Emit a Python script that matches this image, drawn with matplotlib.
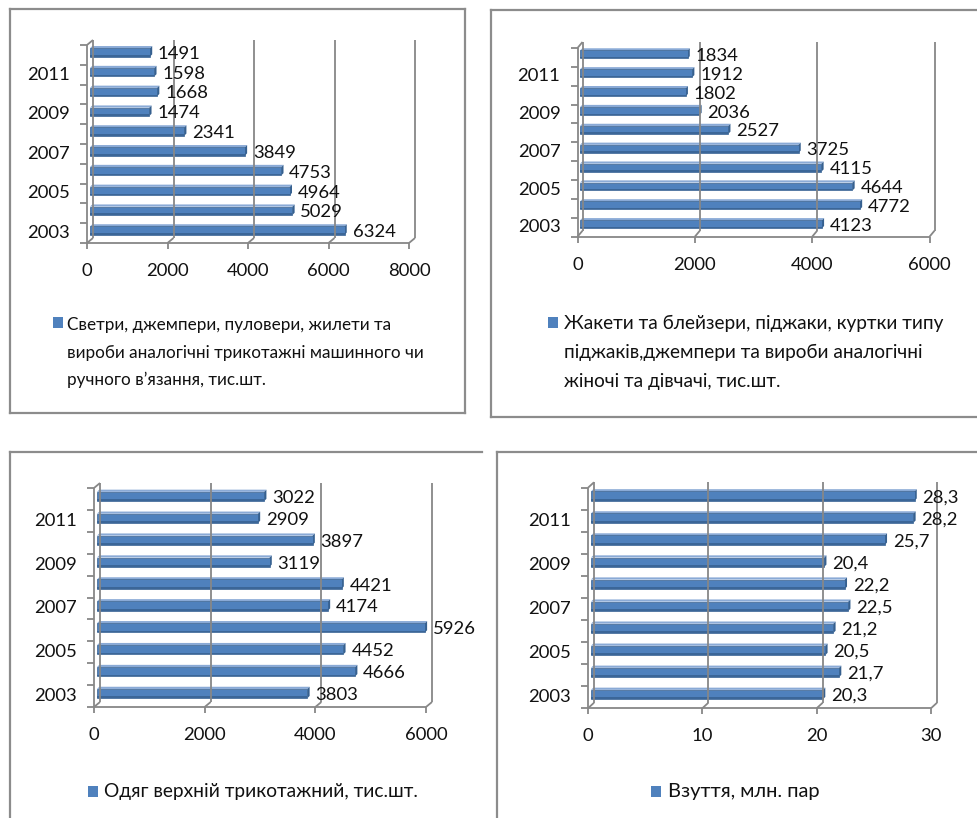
import matplotlib
matplotlib.use("Agg")
import matplotlib.pyplot as plt
from matplotlib.patches import Rectangle, Polygon
from matplotlib.lines import Line2D

# ---------------- data ----------------
years = [2003, 2004, 2005, 2006, 2007, 2008, 2009, 2010, 2011, 2012]
year_labels = ["2003", "", "2005", "", "2007", "", "2009", "", "2011", ""]

sweaters = [6324, 5029, 4964, 4753, 3849, 2341, 1474, 1668, 1598, 1491]
jackets = [4123, 4772, 4644, 4115, 3725, 2527, 2036, 1802, 1912, 1834]
outerwear = [3803, 4666, 4452, 5926, 4174, 4421, 3119, 3897, 2909, 3022]
footwear = [20.3, 21.7, 20.5, 21.2, 22.5, 22.2, 20.4, 25.7, 28.2, 28.3]

ticks_1 = [0, 2000, 4000, 6000, 8000]
ticks_2 = [0, 2000, 4000, 6000]
ticks_3 = [0, 2000, 4000, 6000]
ticks_4 = [0, 10, 20, 30]

legend_1 = ["Светри, джемпери, пуловери, жилети та",
            "вироби аналогічні трикотажні машинного чи",
            "ручного в’язання, тис.шт."]
legend_2 = ["Жакети та блейзери, піджаки, куртки типу",
            "піджаків,джемпери та вироби аналогічні",
            "жіночі та дівчачі, тис.шт."]
legend_3 = ["Одяг верхній трикотажний, тис.шт."]
legend_4 = ["Взуття, млн. пар"]

# ---------------- style ----------------
W, H = 977, 818
FONT = ["Lato", "Liberation Sans", "DejaVu Sans"]
FS = 13.3
BAR = "#4F81BD"
BAR_DARK = "#36608F"
BAR_LIGHT = "#8AAAD6"
GRID = "#878787"
BORDER = "#8C8C8C"
TXT = "#111111"

fig = plt.figure(figsize=(W / 100, H / 100), dpi=100)
fig.patch.set_facecolor("white")


def fx(px):
    return px / W


def fy(py):
    return 1 - py / H


def border(x0, y0, x1, y1, sides):
    kw = dict(color=BORDER, lw=1.6, transform=fig.transFigure)
    if "top" in sides:
        fig.add_artist(Line2D([fx(x0), fx(x1)], [fy(y0), fy(y0)], **kw))
    if "bottom" in sides:
        fig.add_artist(Line2D([fx(x0), fx(x1)], [fy(y1), fy(y1)], **kw))
    if "left" in sides:
        fig.add_artist(Line2D([fx(x0), fx(x0)], [fy(y0), fy(y1)], **kw))
    if "right" in sides:
        fig.add_artist(Line2D([fx(x1), fx(x1)], [fy(y0), fy(y1)], **kw))


def panel(values, ticks, fmt, geom, legend_lines, leg, fs_leg):
    x0, x1, ytop, ybot, dx, dy = geom
    xmax = ticks[-1]
    ax = fig.add_axes([fx(x0), fy(ybot), (x1 - x0) / W, (ybot - ytop) / H])
    ax.set_xlim(0, xmax)
    ax.set_ylim(-0.5, len(values) - 0.5)
    ax.axis("off")
    n = len(values)
    ux = xmax / (x1 - x0)      # data units per pixel (x)
    uy = n / (ybot - ytop)     # data units per pixel (y)
    ox, oy = dx / 2 * ux, dy / 2 * uy
    lkw = dict(color=GRID, lw=1.3, clip_on=False, solid_capstyle="butt")
    ybottom, ytopd = -0.5, n - 0.5

    # back wall gridlines and floor diagonals, front axis ticks
    for t in ticks:
        ax.plot([t + ox, t + ox], [ybottom + oy, ytopd + oy], **lkw)
        ax.plot([t - ox, t + ox], [ybottom - oy, ybottom + oy], **lkw)
        ax.plot([t - ox, t - ox], [ybottom - oy, ybottom - oy - 6 * uy], **lkw)
        ax.text(t - ox, ybottom - oy - 28 * uy, f"{t:g}", ha="center", va="center",
                fontsize=FS, family=FONT, color=TXT)
    # front floor line
    ax.plot([-ox, xmax - ox], [ybottom - oy, ybottom - oy], **lkw)
    # front left axis + ticks + top diagonal
    ax.plot([-ox, -ox], [ybottom - oy, ytopd - oy], **lkw)
    ax.plot([-ox, ox], [ytopd - oy, ytopd + oy], **lkw)
    for k in range(n + 1):
        yb = k - 0.5 - oy
        ax.plot([-ox - 7 * ux, -ox], [yb, yb], **lkw)

    # bars with a small 3-D look
    h = 0.42
    cx, cy = 2.2 * ux, 2.2 * uy
    pos = list(range(n))
    for y, v in zip(pos, values):
        ax.add_patch(Polygon([(0, y + h / 2), (cx, y + h / 2 + cy), (v + cx, y + h / 2 + cy),
                              (v, y + h / 2)], closed=True, fc=BAR_LIGHT, ec="none",
                             clip_on=False))
        ax.add_patch(Polygon([(v, y - h / 2), (v + cx, y - h / 2 + cy), (v + cx, y + h / 2 + cy),
                              (v, y + h / 2)], closed=True, fc=BAR_DARK, ec="none",
                             clip_on=False))
    ax.barh(pos, values, height=h, color=BAR, edgecolor=BAR_DARK, linewidth=0.5,
            clip_on=False)
    for y, v in zip(pos, values):
        ax.add_patch(Rectangle((0, y - h / 2), v, h * 0.18, fc=BAR_DARK, ec="none",
                               clip_on=False, alpha=0.8))
        ax.text(v + 8 * ux, y - 1.5 * uy, fmt(v), ha="left", va="center",
                fontsize=FS, family=FONT, color=TXT)

    # category labels (front plane)
    for y, lab in zip(pos, year_labels):
        if lab:
            ax.text(-ox - 17 * ux, y - oy, lab, ha="right", va="center",
                    fontsize=FS, family=FONT, color=TXT)

    # legend
    mx, my, tx, lys = leg
    fig.add_artist(Rectangle((fx(mx), fy(my + 5.5)), 10 / W, 11 / H, fc=BAR, ec="none",
                             transform=fig.transFigure))
    for line, ly in zip(legend_lines, lys):
        fig.text(fx(tx), fy(ly), line, ha="left", va="center", fontsize=fs_leg,
                 family=FONT, color=TXT)


fmt_int = lambda v: f"{v:.0f}"
fmt_dec = lambda v: f"{v:.1f}".replace(".", ",")

# panel frames
border(10, 9, 465, 413, ["top", "bottom", "left", "right"])
border(491, 10, 990, 417, ["top", "bottom", "left"])
border(10, 452, 482, 830, ["top", "left"])
border(497, 452, 990, 830, ["top", "left"])

panel(sweaters, ticks_1, fmt_int, (90, 412, 42.5, 240.5, 6, 5), legend_1,
      (53, 323, 67, [325, 353, 380]), 12.3)
panel(jackets, ticks_2, fmt_int, (580, 932, 45, 233.7, 5, 6), legend_2,
      (548, 323, 564, [323, 352, 382]), 13.7)
panel(outerwear, ticks_3, fmt_int, (97, 429, 485.5, 704.5, 6, 5), legend_3,
      (88, 791, 104, [792]), 13.8)
panel(footwear, ticks_4, fmt_dec, (591, 934, 485, 705.5, 6, 5.5), legend_4,
      (651, 791.5, 668, [792]), 14.5)

fig.savefig("out.png", dpi=100)
